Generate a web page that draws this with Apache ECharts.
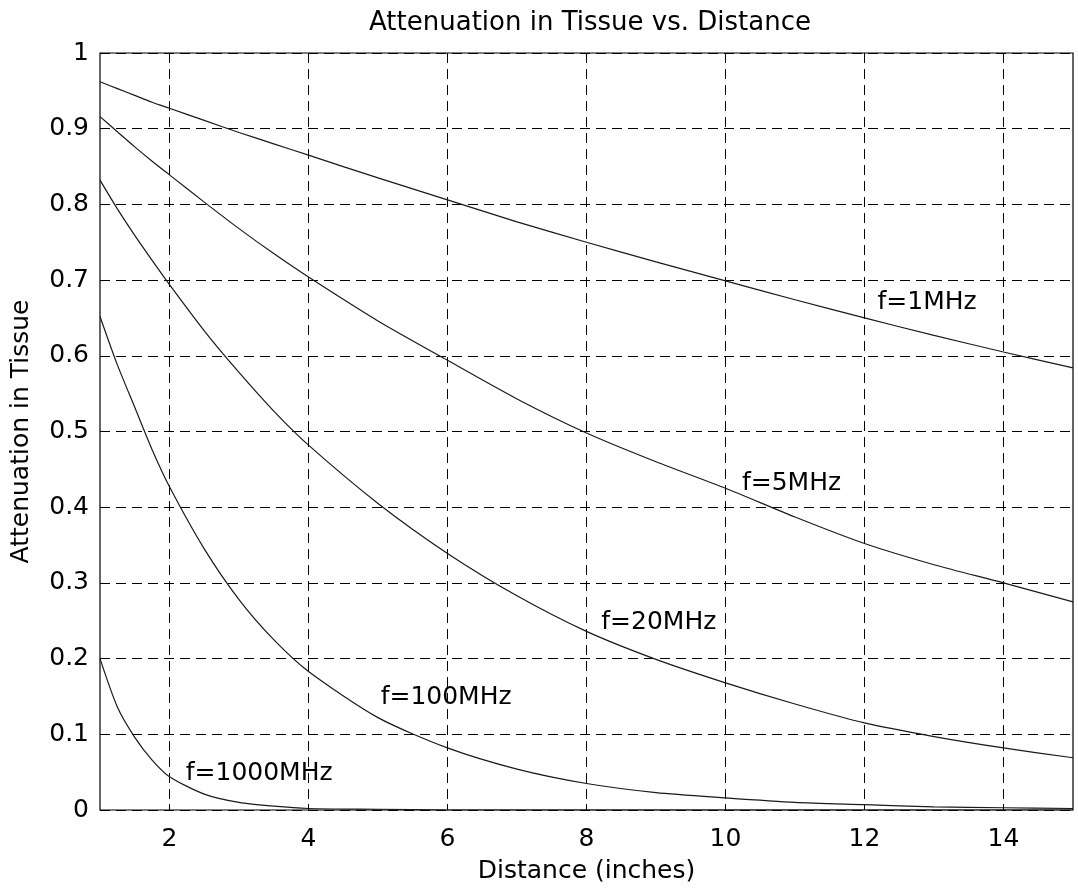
<!DOCTYPE html>
<html>
<head>
<meta charset="utf-8">
<title>Attenuation in Tissue vs. Distance</title>
<script src="https://cdn.jsdelivr.net/npm/echarts@6/dist/echarts.min.js"></script>
<style>
  html, body { margin: 0; padding: 0; background: #fff; }
  #chart { width: 1078px; height: 895px; }
</style>
</head>
<body>
<div id="chart"></div>
<script>
// distance in inches (x)
const distance = [1, 1.25, 1.5, 1.75, 2, 2.5, 3, 3.5, 4, 5, 6, 7, 8, 9, 10, 11, 12, 13, 14, 15];

// attenuation, one list per frequency
const f1MHz = [0.962, 0.953, 0.944, 0.935, 0.927, 0.911, 0.895, 0.880, 0.865, 0.835, 0.806, 0.777, 0.750, 0.724, 0.699, 0.674, 0.650, 0.627, 0.605, 0.584];
const f5MHz = [0.916, 0.896, 0.876, 0.857, 0.839, 0.803, 0.768, 0.735, 0.704, 0.646, 0.594, 0.543, 0.498, 0.460, 0.425, 0.387, 0.352, 0.324, 0.300, 0.275];
const f20MHz = [0.832, 0.794, 0.759, 0.726, 0.694, 0.633, 0.578, 0.527, 0.482, 0.405, 0.339, 0.283, 0.236, 0.199, 0.168, 0.140, 0.115, 0.097, 0.082, 0.069];
const f100MHz = [0.652, 0.588, 0.532, 0.476, 0.427, 0.345, 0.278, 0.225, 0.183, 0.122, 0.082, 0.054, 0.035, 0.023, 0.016, 0.010, 0.007, 0.004, 0.003, 0.002];
const f1000MHz = [0.200, 0.136, 0.096, 0.066, 0.044, 0.021, 0.010, 0.005, 0.002, 0.001, 0, 0, 0, 0, 0, 0, 0, 0, 0, 0];

const seriesNames = ['f=1MHz', 'f=5MHz', 'f=20MHz', 'f=100MHz', 'f=1000MHz'];
const seriesValues = [f1MHz, f5MHz, f20MHz, f100MHz, f1000MHz];

const xTicks = [2, 4, 6, 8, 10, 12, 14];

// where each curve's text sits, in data units
const labelAnchors = [[12.9, 0.671], [10.95, 0.431], [9.04, 0.248], [5.98, 0.149], [3.29, 0.048]];

const FONT = '"DejaVu Sans", Verdana, sans-serif';

const chart = echarts.init(document.getElementById('chart'));

const series = seriesValues.map((vals, i) => ({
    name: seriesNames[i],
    type: 'line',
    data: distance.map((d, k) => [d, vals[k]]),
    showSymbol: false,
    smooth: 0.25,
    lineStyle: { color: '#1a1a1a', width: 1.2 },
    silent: true,
    z: 3,
    markPoint: {
        symbol: 'circle',
        symbolSize: 1,
        itemStyle: { color: 'rgba(0,0,0,0)' },
        label: {
            show: true,
            position: 'inside',
            formatter: seriesNames[i],
            color: '#000',
            fontFamily: FONT,
            fontSize: 25
        },
        data: [{ coord: labelAnchors[i] }]
    }
}));

const option = {
    backgroundColor: '#fff',
    animation: false,
    title: {
        text: 'Attenuation in Tissue vs. Distance',
        left: 585,
        top: 5,
        textAlign: 'center',
        textStyle: { fontFamily: FONT, fontSize: 26, fontWeight: 'normal', color: '#000' }
    },
    grid: {
        left: 100,
        right: 5,
        top: 53,
        bottom: 85,
        outerBoundsMode: 'none',
        show: true,
        borderColor: '#000',
        borderWidth: 1.2
    },
    xAxis: {
        type: 'value',
        min: 1,
        max: 15,
        name: 'Distance (inches)',
        nameLocation: 'middle',
        nameGap: 49,
        nameTextStyle: { fontFamily: FONT, fontSize: 25, color: '#000' },
        axisLine: { show: false },
        axisTick: { show: true, inside: true, length: 6, customValues: xTicks, lineStyle: { color: '#000' } },
        axisLabel: { customValues: xTicks, margin: 17, fontFamily: FONT, fontSize: 25, color: '#000' },
        splitLine: { show: true, lineStyle: { color: '#000', type: [10, 6], width: 1 } }
    },
    yAxis: {
        type: 'value',
        min: 0,
        max: 1,
        interval: 0.1,
        name: 'Attenuation in Tissue',
        nameLocation: 'middle',
        nameGap: 66,
        nameTextStyle: { fontFamily: FONT, fontSize: 25, color: '#000' },
        axisLine: { show: false },
        axisTick: { show: true, inside: true, length: 6, lineStyle: { color: '#000' } },
        axisLabel: { margin: 11, fontFamily: FONT, fontSize: 25, color: '#000' },
        splitLine: { show: true, lineStyle: { color: '#000', type: [10, 6], width: 1 } }
    },
    series: series
};

chart.setOption(option);
</script>
</body>
</html>
